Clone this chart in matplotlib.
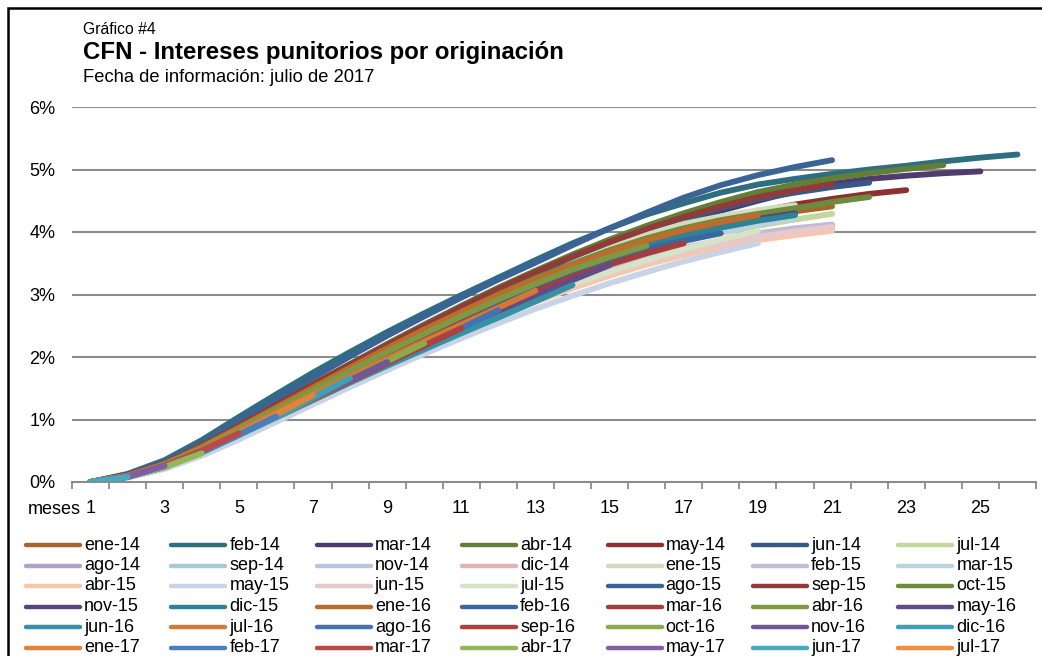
import matplotlib
matplotlib.use("Agg")
import matplotlib.pyplot as plt
from matplotlib.lines import Line2D
from matplotlib.patches import Rectangle

plt.rcParams.update({
    "font.family": ["Liberation Sans", "DejaVu Sans"],
    "font.size": 13,
})

W, H = 1042, 656

# cohort (month of origination) and accumulated punitive interest, % by month
cohorts = ["ene-14", "feb-14", "mar-14", "abr-14", "may-14", "jun-14", "jul-14",
           "ago-14", "sep-14", "nov-14", "dic-14", "ene-15", "feb-15", "mar-15",
           "abr-15", "may-15", "jun-15", "jul-15", "ago-15", "sep-15", "oct-15",
           "nov-15", "dic-15", "ene-16", "feb-16", "mar-16", "abr-16", "may-16",
           "jun-16", "jul-16", "ago-16", "sep-16", "oct-16", "nov-16", "dic-16",
           "ene-17", "feb-17", "mar-17", "abr-17", "may-17", "jun-17", "jul-17"]

curves = [
    [0, 0.10, 0.28, 0.54, 0.85, 1.16, 1.48, 1.79, 2.09, 2.39, 2.67, 2.94, 3.19, 3.42, 3.63, 3.82, 3.98, 4.12, 4.23, 4.33, 4.41],
    [0, 0.13, 0.35, 0.67, 1.04, 1.40, 1.75, 2.08, 2.40, 2.70, 2.99, 3.27, 3.55, 3.82, 4.06, 4.28, 4.46, 4.63, 4.76, 4.85, 4.93, 5.00, 5.06, 5.13, 5.19, 5.24],
    [0, 0.11, 0.30, 0.57, 0.89, 1.21, 1.53, 1.85, 2.16, 2.46, 2.75, 3.03, 3.29, 3.54, 3.77, 3.98, 4.17, 4.34, 4.50, 4.65, 4.77, 4.85, 4.90, 4.94, 4.97],
    [0, 0.11, 0.30, 0.58, 0.91, 1.24, 1.57, 1.89, 2.21, 2.52, 2.82, 3.11, 3.38, 3.64, 3.88, 4.10, 4.30, 4.48, 4.64, 4.76, 4.86, 4.94, 5.01, 5.07],
    [0, 0.10, 0.28, 0.54, 0.85, 1.17, 1.49, 1.80, 2.11, 2.41, 2.70, 2.97, 3.22, 3.46, 3.68, 3.88, 4.05, 4.20, 4.33, 4.44, 4.53, 4.61, 4.67],
    [0, 0.10, 0.29, 0.56, 0.88, 1.20, 1.52, 1.84, 2.15, 2.45, 2.74, 3.02, 3.29, 3.54, 3.78, 4.00, 4.20, 4.38, 4.53, 4.63, 4.72, 4.79],
    [0, 0.09, 0.26, 0.51, 0.80, 1.10, 1.41, 1.71, 2.01, 2.30, 2.58, 2.84, 3.09, 3.31, 3.52, 3.70, 3.86, 3.99, 4.10, 4.20, 4.29],
    [0, 0.09, 0.25, 0.49, 0.77, 1.06, 1.35, 1.64, 1.93, 2.21, 2.48, 2.73, 2.97, 3.18, 3.38, 3.55, 3.70, 3.83, 3.94, 4.03, 4.10],
    [0, 0.09, 0.25, 0.49, 0.77, 1.06, 1.35, 1.64, 1.92, 2.20, 2.46, 2.71, 2.94, 3.16, 3.36, 3.54, 3.70, 3.83, 3.94, 4.02, 4.08],
    [0, 0.08, 0.24, 0.47, 0.74, 1.02, 1.31, 1.59, 1.87, 2.15, 2.41, 2.67, 2.91, 3.13, 3.33, 3.51, 3.66, 3.79, 3.90, 3.98, 4.04],
    [0, 0.09, 0.25, 0.48, 0.75, 1.03, 1.32, 1.60, 1.88, 2.16, 2.42, 2.68, 2.92, 3.14, 3.34, 3.52, 3.67, 3.80, 3.91, 3.99, 4.06],
    [0, 0.10, 0.28, 0.54, 0.85, 1.16, 1.47, 1.78, 2.08, 2.38, 2.67, 2.95, 3.22, 3.50, 3.74, 3.96, 4.13, 4.25, 4.35, 4.43],
    [0, 0.09, 0.26, 0.50, 0.78, 1.07, 1.37, 1.66, 1.95, 2.23, 2.50, 2.75, 2.99, 3.21, 3.41, 3.59, 3.74, 3.87, 3.98, 4.06, 4.12],
    [0, 0.09, 0.26, 0.51, 0.79, 1.09, 1.39, 1.69, 1.98, 2.26, 2.53, 2.79, 3.04, 3.27, 3.48, 3.67, 3.84, 3.99, 4.12, 4.22],
    [0, 0.08, 0.24, 0.47, 0.74, 1.02, 1.30, 1.58, 1.86, 2.13, 2.39, 2.64, 2.88, 3.10, 3.30, 3.48, 3.63, 3.76, 3.87, 3.95, 4.02],
    [0, 0.07, 0.21, 0.42, 0.68, 0.96, 1.24, 1.52, 1.79, 2.05, 2.30, 2.54, 2.77, 2.98, 3.18, 3.36, 3.53, 3.68, 3.82],
    [0, 0.09, 0.25, 0.48, 0.76, 1.04, 1.33, 1.61, 1.89, 2.17, 2.43, 2.69, 2.93, 3.15, 3.35, 3.53, 3.68, 3.81, 3.92, 4.01, 4.08],
    [0, 0.09, 0.25, 0.48, 0.76, 1.04, 1.33, 1.62, 1.90, 2.18, 2.45, 2.70, 2.94, 3.16, 3.36, 3.55, 3.72, 3.88, 4.02],
    [0, 0.12, 0.32, 0.62, 0.98, 1.33, 1.67, 2.01, 2.34, 2.65, 2.95, 3.24, 3.51, 3.79, 4.06, 4.31, 4.55, 4.75, 4.91, 5.04, 5.15],
    [0, 0.11, 0.30, 0.58, 0.90, 1.23, 1.56, 1.88, 2.19, 2.50, 2.80, 3.09, 3.36, 3.61, 3.84, 4.05, 4.24, 4.41, 4.56, 4.67, 4.77],
    [0, 0.10, 0.28, 0.55, 0.86, 1.18, 1.50, 1.82, 2.13, 2.43, 2.72, 3.00, 3.26, 3.49, 3.71, 3.90, 4.06, 4.19, 4.29, 4.38, 4.48, 4.56],
    [0, 0.10, 0.28, 0.55, 0.86, 1.17, 1.49, 1.80, 2.10, 2.39, 2.67, 2.94, 3.19, 3.42, 3.63, 3.81, 3.97, 4.10, 4.21, 4.30],
    [0, 0.10, 0.28, 0.54, 0.84, 1.15, 1.46, 1.77, 2.07, 2.36, 2.64, 2.90, 3.15, 3.38, 3.59, 3.78, 3.94, 4.07, 4.18, 4.27],
    [0, 0.10, 0.29, 0.56, 0.87, 1.19, 1.51, 1.83, 2.14, 2.44, 2.72, 2.99, 3.24, 3.47, 3.68, 3.87, 4.03, 4.16, 4.27],
    [0, 0.10, 0.27, 0.52, 0.82, 1.12, 1.42, 1.72, 2.01, 2.30, 2.58, 2.85, 3.10, 3.34, 3.55, 3.73, 3.86, 3.98],
    [0, 0.10, 0.27, 0.52, 0.81, 1.11, 1.41, 1.70, 1.99, 2.27, 2.54, 2.80, 3.05, 3.28, 3.48, 3.66, 3.82],
    [0, 0.10, 0.28, 0.54, 0.85, 1.16, 1.47, 1.78, 2.08, 2.37, 2.65, 2.92, 3.17, 3.40, 3.60, 3.78],
    [0, 0.09, 0.26, 0.50, 0.78, 1.07, 1.36, 1.65, 1.93, 2.20, 2.47, 2.73, 2.98, 3.23, 3.47],
    [0, 0.09, 0.25, 0.48, 0.75, 1.03, 1.31, 1.59, 1.86, 2.12, 2.38, 2.63, 2.89, 3.15],
    [0, 0.10, 0.27, 0.52, 0.81, 1.11, 1.40, 1.69, 1.97, 2.25, 2.52, 2.79, 3.06],
    [0, 0.09, 0.26, 0.50, 0.78, 1.06, 1.34, 1.62, 1.90, 2.18, 2.46, 2.75],
    [0, 0.09, 0.25, 0.48, 0.76, 1.04, 1.32, 1.61, 1.90, 2.18, 2.46],
    [0, 0.09, 0.25, 0.49, 0.76, 1.04, 1.33, 1.63, 1.93, 2.22],
    [0, 0.09, 0.26, 0.50, 0.77, 1.05, 1.34, 1.63, 1.92],
    [0, 0.08, 0.24, 0.47, 0.75, 1.04, 1.35, 1.66],
    [0, 0.09, 0.25, 0.49, 0.78, 1.08, 1.39],
    [0, 0.08, 0.24, 0.48, 0.76, 1.05],
    [0, 0.09, 0.26, 0.50, 0.78],
    [0, 0.08, 0.24, 0.46],
    [0, 0.08, 0.26],
    [0, 0.08],
    [0],
]

colors = ["#A8642C", "#2E6E7E", "#4F3B6E", "#627E37", "#8B3230", "#36598A", "#C3D69B",
          "#B3A2C7", "#A5CBD8", "#B9C5DE", "#E1B3B2", "#D0DDBC", "#C5BAD6", "#B8D4DF",
          "#F8C6AA", "#C9D3E6", "#E8C9C9", "#D6E3C6", "#3A6396", "#923A38", "#6E8B3D",
          "#5A4478", "#2F8294", "#BE6C2C", "#3A67A0", "#A43D3B", "#7D9944", "#634C85",
          "#3591A6", "#D07A36", "#4472B4", "#AE403E", "#8AAB49", "#72569A", "#3DA0B9",
          "#E0843C", "#4A7EBB", "#BA4A48", "#92B755", "#7E5FA3", "#48A9C3", "#EE8E3E"]

n_months = 26
GRID = "#8C8C8C"
FS = 13


def px(x, y):
    return x / W, 1 - y / H


fig = plt.figure(figsize=(W / 100, H / 100), dpi=100)
fig.add_artist(Rectangle(px(8, 700), (W + 40) / W, 692 / H, fill=False,
                         edgecolor="black", linewidth=1.8, transform=fig.transFigure))

x0, y0 = px(72, 482)
x1, y1 = px(1036, 107)
ax = fig.add_axes([x0, y0, x1 - x0, y1 - y0])

for name, vals, c in zip(cohorts, curves, colors):
    ax.plot(range(1, len(vals) + 1), vals, color=c, lw=4.2,
            solid_capstyle="round", solid_joinstyle="round", label=name)

ax.set_xlim(0.5, n_months + 0.5)
ax.set_ylim(0, 6)
ax.set_yticks(range(0, 7))
ax.set_yticklabels([f"{v}%" for v in range(0, 7)], fontsize=FS)
for v in range(1, 7):
    ax.axhline(v, color=GRID, lw=1.5, zorder=0)
ax.tick_params(axis="y", length=0, pad=12)

ax.set_xticks(range(1, n_months + 1, 2))
ax.set_xticklabels([str(m) for m in range(1, n_months + 1, 2)], fontsize=FS)
ax.set_xticks([m + 0.5 for m in range(0, n_months + 1)], minor=True)
ax.tick_params(axis="x", which="major", length=0, pad=13)
ax.tick_params(axis="x", which="minor", length=5, width=1.3, color=GRID)

for s in ["top", "right", "left"]:
    ax.spines[s].set_visible(False)
ax.spines["bottom"].set_color(GRID)
ax.spines["bottom"].set_linewidth(1.5)

fig.text(*px(81, 509), "meses", ha="right", va="center", fontsize=FS)

# titles
fig.text(*px(83, 29), "Gráfico #4", ha="left", va="center", fontsize=11.3)
fig.text(*px(83, 53), "CFN - Intereses punitorios por originación", ha="left",
         va="center", fontsize=17.3, fontweight="bold")
fig.text(*px(83, 78), "Fecha de información: julio de 2017", ha="left",
         va="center", fontsize=13.2)

# legend, 7 columns
for i, (name, c) in enumerate(zip(cohorts, colors)):
    row, col = divmod(i, 7)
    lx = 26 + col * 145.4
    ly = 545 + row * 20.5
    (ax_, ay_), (bx_, by_) = px(lx, ly), px(lx + 54, ly)
    fig.add_artist(Line2D([ax_, bx_], [ay_, by_], color=c, lw=3.2,
                          solid_capstyle="round", transform=fig.transFigure))
    fig.text(*px(lx + 58, ly), name, ha="left", va="center", fontsize=FS)

fig.savefig("out.png", dpi=100)
